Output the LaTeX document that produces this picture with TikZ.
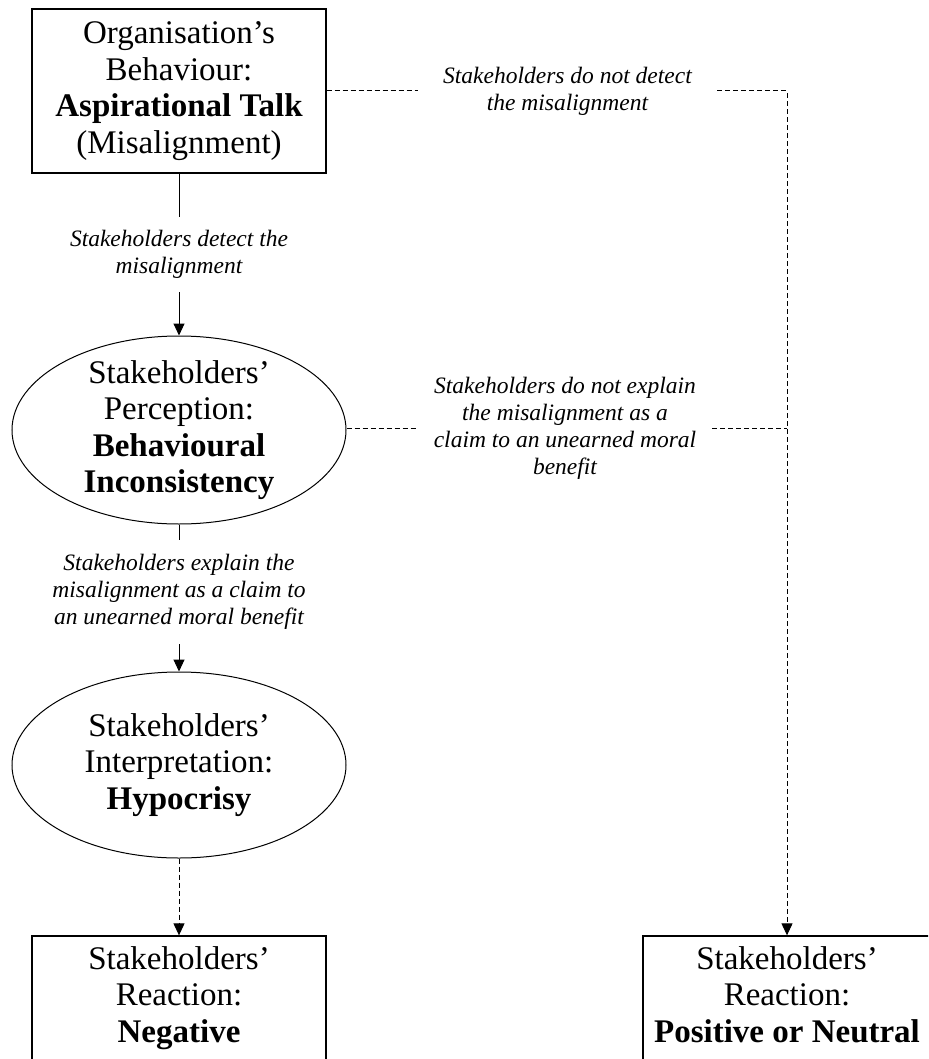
\documentclass[tikz,border=0pt]{standalone}
\usepackage{fontspec}
\setmainfont{Liberation Serif}
\usetikzlibrary{arrows.meta,shapes.geometric}

\begin{document}
\begin{tikzpicture}[x=1pt,y=-1pt,>={Triangle[width=11pt,length=12pt]}]
    \tikzstyle{main}=[font=\fontsize{33}{36.5}\selectfont, align=center, text=black]
    \tikzstyle{box}=[style=main, draw, rectangle, line width=1.3pt, minimum width=294pt, inner sep=0pt]
    \tikzstyle{oval}=[style=main, draw, ellipse, line width=1pt, minimum width=334pt, minimum height=188pt, inner xsep=0pt, inner ysep=-8pt]
    \tikzstyle{cond}=[font=\fontsize{23.5}{27}\selectfont\itshape, align=center, inner sep=0pt]
    \tikzstyle{link}=[line width=1pt]
    \tikzstyle{nolink}=[line width=1pt, dash pattern=on 5pt off 3pt]

    \useasboundingbox (0,0) rectangle (928,1059);
    \clip (0,0) rectangle (928,1059);

    \node[box, minimum height=164pt] (org)    at (179,91)   {Organisation’s\\Behaviour:\\\textbf{Aspirational Talk}\\(Misalignment)};
    \node[oval]                      (perc)   at (179,430)  {Stakeholders’\\Perception:\\\textbf{Behavioural}\\\textbf{Inconsistency}};
    \node[oval, minimum height=186pt] (interp) at (179,765) {Stakeholders’\\Interpretation:\\\textbf{Hypocrisy}};
    \node[box, minimum height=128pt] (neg)    at (179,1000) {Stakeholders’\\Reaction:\\\textbf{Negative}\strut};
    \node[box, minimum height=128pt, minimum width=288pt] (pos) at (787,1000) {Stakeholders’\\Reaction:\\\textbf{Positive or Neutral}\strut};

    \node[cond, minimum height=75pt]  (detect)    at (179,254.5) {Stakeholders detect the\\misalignment};
    \node[cond, minimum height=104pt] (explain)   at (179,592)   {Stakeholders explain the\\misalignment as a claim to\\an unearned moral benefit};
    \node[cond, minimum width=299pt]  (nodetect)  at (567.5,91)  {Stakeholders do not detect\\the misalignment};
    \node[cond, minimum width=294pt]  (noexplain) at (565,428)   {Stakeholders do not explain\\the misalignment as a\\claim to an unearned moral\\benefit};
    \coordinate (corner) at (787,91);

    \path[link]
     (org) edge (detect)
     (detect) edge[->] (perc)
     (perc) edge (explain)
     (explain) edge[->] (interp)
     ;
    \path[nolink]
     (interp) edge[->] (neg)
     (org) edge (nodetect)
     (perc.east |- noexplain) edge (noexplain)
     (noexplain.east) edge (noexplain.east -| corner)
     ;
    \draw[nolink,->] (nodetect) -- (corner) -- (corner |- pos.north);
\end{tikzpicture}
\end{document}
